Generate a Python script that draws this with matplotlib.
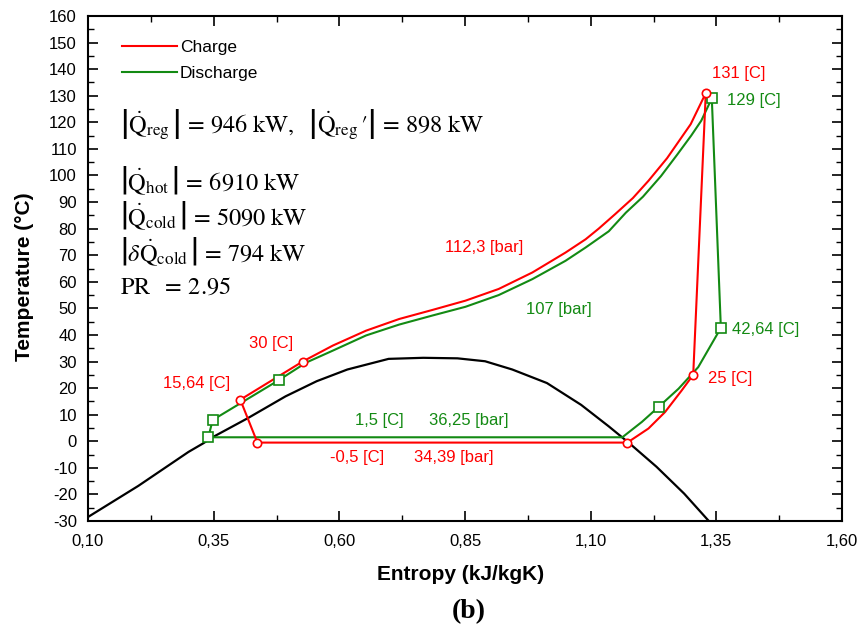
import matplotlib
matplotlib.use("Agg")
import matplotlib.pyplot as plt
from matplotlib.lines import Line2D
from matplotlib.ticker import FixedLocator, FuncFormatter, MultipleLocator

plt.rcParams['font.family'] = ['Liberation Sans', 'DejaVu Sans']
plt.rcParams['mathtext.fontset'] = 'stix'

RED = '#FF0000'
GREEN = '#138A13'

# ---- data ----
x_ticks = [0.10, 0.35, 0.60, 0.85, 1.10, 1.35, 1.60]
x_minor = [0.225, 0.475, 0.725, 0.975, 1.225, 1.475]

# saturation dome of CO2
dome_s = [0.10, 0.20, 0.30, 0.3295, 0.3486, 0.418, 0.493, 0.555, 0.616, 0.698,
          0.767, 0.835, 0.890, 0.944, 1.013, 1.081, 1.136, 1.177, 1.231, 1.286, 1.335]
dome_T = [-28.5, -16.8, -4.0, -0.75, 1.6, 8.7, 16.9, 22.6, 27.0, 31.0,
          31.4, 31.2, 30.1, 27.0, 21.9, 13.7, 5.6, -0.75, -9.6, -19.7, -30.0]

# charge cycle (closed path)
charge_s = [0.437, 1.173, 1.215, 1.248, 1.281, 1.304, 1.329, 1.299, 1.252, 1.215,
            1.184, 1.149, 1.116, 1.090, 1.050, 0.984, 0.917, 0.851, 0.785, 0.719,
            0.653, 0.587, 0.527, 0.403, 0.437]
charge_T = [-0.5, -0.5, 4.8, 11.0, 19.1, 25.0, 131.0, 119.3, 106.5, 98.0,
            91.5, 85.5, 80.0, 76.0, 71.0, 63.5, 57.3, 52.9, 49.4, 46.0,
            41.6, 36.0, 30.0, 15.64, -0.5]

# discharge cycle (closed path)
discharge_s = [0.3394, 0.348, 0.4796, 0.534, 0.587, 0.653, 0.719, 0.785, 0.851, 0.917,
               0.984, 1.050, 1.090, 1.136, 1.170, 1.204, 1.240, 1.272, 1.300, 1.320,
               1.341, 1.359, 1.314, 1.275, 1.235, 1.202, 1.163, 0.3394]
discharge_T = [1.5, 8.0, 23.0, 29.6, 34.1, 39.8, 43.9, 47.3, 50.6, 55.0,
               61.0, 67.9, 72.9, 79.0, 86.0, 92.0, 99.8, 107.8, 115.0, 120.6,
               129.0, 42.64, 27.9, 19.8, 12.9, 7.3, 1.5, 1.5]

# state points
charge_pts_s = [0.437, 0.403, 0.527, 1.329, 1.304, 1.173]
charge_pts_T = [-0.5, 15.64, 30.0, 131.0, 25.0, -0.5]
discharge_pts_s = [0.3394, 0.348, 0.4796, 1.341, 1.359, 1.235]
discharge_pts_T = [1.5, 8.0, 23.0, 129.0, 42.64, 12.9]

# annotations
charge_labels = ['131 [C]', '25 [C]', '112,3 [bar]', '30 [C]', '15,64 [C]', '-0,5 [C]', '34,39 [bar]']
charge_label_s = [1.394, 1.378, 0.888, 0.465, 0.316, 0.636, 0.828]
charge_label_T = [138.3, 23.5, 73.0, 36.6, 21.6, -6.1, -6.1]
discharge_labels = ['129 [C]', '42,64 [C]', '107 [bar]', '1,5 [C]', '36,25 [bar]']
discharge_label_s = [1.425, 1.449, 1.037, 0.679, 0.858]
discharge_label_T = [128.1, 41.9, 49.4, 7.8, 7.8]

eq_lines = [
    r"$\left|\dot{\mathrm{Q}}_{\mathrm{reg}}\,\right|\, =\, 946\ \mathrm{kW},\ \ \left|\dot{\mathrm{Q}}_{\mathrm{reg}}\,\prime\right|\, =\, 898\ \mathrm{kW}$",
    r"$\left|\dot{\mathrm{Q}}_{\mathrm{hot}}\,\right|\, =\, 6910\ \mathrm{kW}$",
    r"$\left|\dot{\mathrm{Q}}_{\mathrm{cold}}\,\right|\, =\, 5090\ \mathrm{kW}$",
    r"$\left|\delta\dot{\mathrm{Q}}_{\mathrm{cold}}\,\right|\, =\, 794\ \mathrm{kW}$",
    r"$\mathrm{PR}\ \ =\, 2.95$",
]
eq_y = [125, 181, 216, 252, 288]  # pixel rows

# ---- figure ----
W, H = 859, 626
fig = plt.figure(figsize=(W / 100, H / 100), dpi=100)
ax = fig.add_axes([88 / W, 1 - 521 / H, (842 - 88) / W, (521 - 16) / H])

ax.plot(dome_s, dome_T, color='black', lw=1.6, zorder=2)
ax.plot(discharge_s, discharge_T, color=GREEN, lw=1.5, zorder=3)
ax.plot(charge_s, charge_T, color=RED, lw=1.5, zorder=4)
ax.plot(discharge_pts_s, discharge_pts_T, ls='none', marker='s', ms=7,
        mfc='white', mec=GREEN, mew=1.2, zorder=5)
ax.plot(charge_pts_s, charge_pts_T, ls='none', marker='o', ms=6,
        mfc='white', mec=RED, mew=1.2, zorder=6)

for t, s, T in zip(charge_labels, charge_label_s, charge_label_T):
    ax.text(s, T, t, color=RED, fontsize=12, ha='center', va='center')
for t, s, T in zip(discharge_labels, discharge_label_s, discharge_label_T):
    ax.text(s, T, t, color=GREEN, fontsize=12, ha='center', va='center')

for t, yp in zip(eq_lines, eq_y):
    fig.text(120 / W, 1 - yp / H, t, fontsize=17.5, ha='left', va='center')

ax.set_xlim(0.10, 1.60)
ax.set_ylim(-30, 160)
ax.xaxis.set_major_locator(FixedLocator(x_ticks))
ax.xaxis.set_minor_locator(FixedLocator(x_minor))
ax.yaxis.set_major_locator(MultipleLocator(10))
ax.yaxis.set_minor_locator(MultipleLocator(5))
ax.xaxis.set_major_formatter(FuncFormatter(lambda v, p: f"{v:.2f}".replace('.', ',')))
ax.yaxis.set_major_formatter(FuncFormatter(lambda v, p: f"{v:.0f}"))
ax.tick_params(which='both', direction='in', top=True, right=True, labelsize=12)
ax.tick_params(which='major', length=7, width=1.2)
ax.tick_params(which='minor', length=4, width=1.0)
ax.tick_params(axis='x', which='major', pad=9)
ax.tick_params(axis='y', which='major', pad=8)
for sp in ax.spines.values():
    sp.set_linewidth(1.5)

ax.set_xlabel('Entropy (kJ/kgK)', fontsize=15, fontweight='bold', va='center')
ax.set_ylabel('Temperature (°C)', fontsize=15, fontweight='bold', va='center')
ax.xaxis.set_label_coords((461 - 88) / 754, (521 - 574) / 505)
ax.yaxis.set_label_coords((25 - 88) / 754, (521 - 277) / 505)

handles = [Line2D([], [], color=RED, lw=1.5), Line2D([], [], color=GREEN, lw=1.5)]
ax.legend(handles, ['Charge', 'Discharge'], loc='upper left', bbox_to_anchor=(0.045, 0.952),
          frameon=False, fontsize=12.5, handlelength=3.15, handletextpad=0.18,
          labelspacing=0.62, borderaxespad=0.0, borderpad=0.0)

fig.text(469 / W, 1 - 612 / H, '(b)', fontsize=20, fontweight='bold',
         family=['Liberation Serif', 'DejaVu Serif'], ha='center', va='center')

fig.savefig('out.png', dpi=100)
